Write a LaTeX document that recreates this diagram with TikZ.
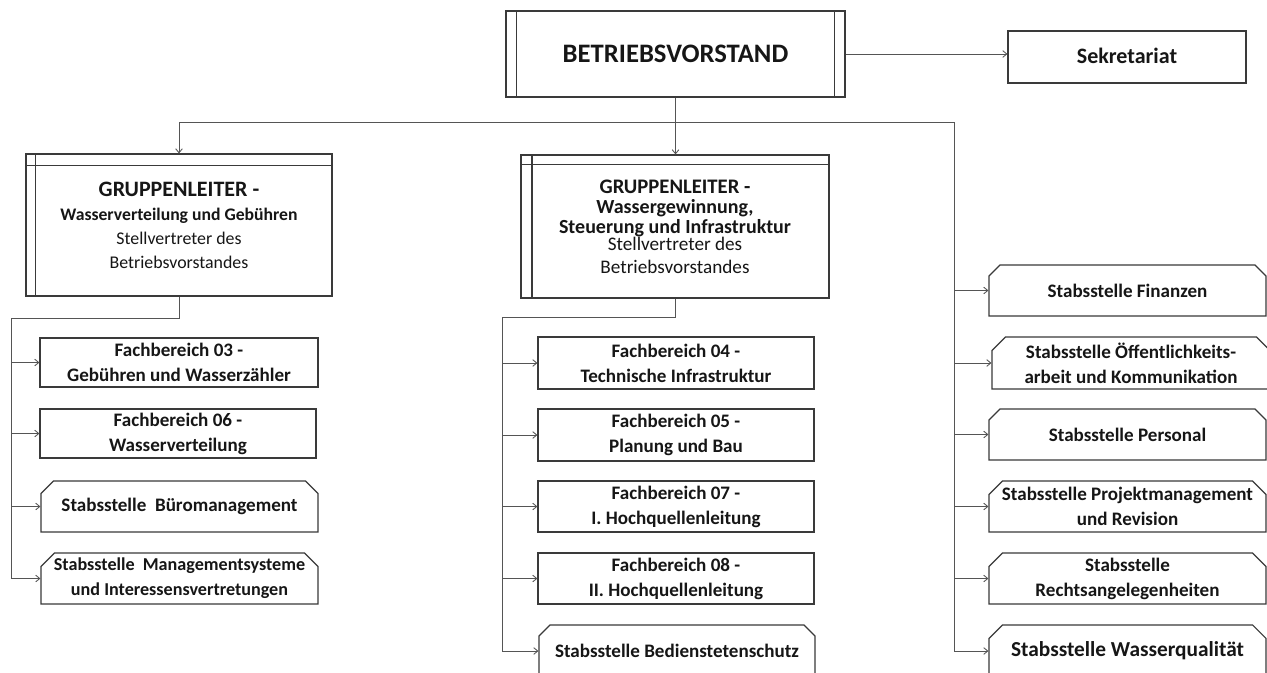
\documentclass[tikz,border=0pt]{standalone}
\usepackage{fontspec}
\setmainfont{Carlito}
\usetikzlibrary{shapes.misc,arrows.meta,calc}
\definecolor{ln}{HTML}{555555}
\definecolor{bd}{HTML}{3A3A3A}
\definecolor{tx}{HTML}{161616}
\newcommand\fsz[2]{\fontsize{#1pt}{#2pt}\selectfont}
\tikzset{
  sz/.style 2 args={minimum width=#1*0.75pt, minimum height=#2*0.75pt},
  box/.style={draw=bd, line width=0.9pt, rectangle, inner sep=0pt, align=center, text=tx,
    font=\fsz{14.3}{18.75}\bfseries},
  stab/.style={box, chamfered rectangle, chamfered rectangle corners={north west,north east},
    chamfered rectangle xsep=7pt},
  conn/.style={draw=ln, line width=0.65pt},
  arr/.style={conn, -{Straight Barb[length=3pt,width=5pt]}},
  inner/.style={draw=bd, line width=0.9pt},
}
\begin{document}
\begin{tikzpicture}[x=0.75pt,y=-0.75pt]
\useasboundingbox (0,0) rectangle (1267,672);
\clip (0,0) rectangle (1267,672);
\fill[white] (0,0) rectangle (1267,672);

% top
\node[box, sz={339}{86}, font=\fsz{20}{22}\bfseries] (BV) at (675.5,54) {BETRIEBSVORSTAND};
\draw[inner] ($(BV.north west)+(11,0)$) -- ($(BV.south west)+(11,0)$);
\draw[inner] ($(BV.north east)+(-11,0)$) -- ($(BV.south east)+(-11,0)$);
\node[box, sz={238}{52}, font=\fsz{16.5}{18}\bfseries] (SK) at (1127,57) {\raisebox{1.5pt}{Sekretariat}};

% group leaders
\node[box, sz={306}{142}, font=\fsz{13.4}{18}] (GL1) at (179,225)
  {{\fsz{16.5}{18}\bfseries GRUPPENLEITER -}\\{\fsz{13.25}{18}\bfseries Wasserverteilung und Gebühren}\\Stellvertreter des\\Betriebsvorstandes};
\draw[inner] ($(GL1.north west)+(10,0)$) -- ($(GL1.south west)+(10,0)$);
\draw[inner] ($(GL1.north west)+(0,12)$) -- ($(GL1.north east)+(0,12)$);

\node[box, sz={308}{143}, font=\fsz{15}{15}] (GL2) at (675,226.5)
  {{\fsz{15.5}{15}\bfseries GRUPPENLEITER -}\\{\bfseries Wassergewinnung,}\\{\bfseries Steuerung und Infrastruktur}\\[-2.25pt]{\fsz{14.4}{15}\mdseries Stellvertreter des}\\[2.25pt]{\fsz{14.4}{15}\mdseries Betriebsvorstandes}};
\draw[inner] ($(GL2.north west)+(11.5,0)$) -- ($(GL2.south west)+(11.5,0)$);
\draw[inner] ($(GL2.north west)+(0,10)$) -- ($(GL2.north east)+(0,10)$);

% left column
\node[box, sz={278}{49}] (FB03) at (179,362.5) {Fachbereich 03 -\\Gebühren und Wasserzähler};
\node[box, sz={276}{49}] (FB06) at (178,433.5) {Fachbereich 06 -\\Wasserverteilung};
\node[stab, sz={277}{51}] (BM) at (179.5,506.5) {Stabsstelle~ Büromanagement};
\node[stab, sz={277}{51}, font=\fsz{13.6}{18.75}\bfseries] (MS) at (179.5,578.5) {Stabsstelle\hspace{0.45em}Managementsysteme\\und Interessensvertretungen};

% middle column
\node[box, sz={276}{52}] (FB04) at (676,363) {Fachbereich 04 -\\Technische Infrastruktur};
\node[box, sz={276}{52}] (FB05) at (676,435) {Fachbereich 05 -\\Planung und Bau};
\node[box, sz={276}{51}] (FB07) at (676,506.5) {Fachbereich 07 -\\I. Hochquellenleitung};
\node[box, sz={276}{51}] (FB08) at (676,578.5) {Fachbereich 08 -\\II. Hochquellenleitung};
\node[stab, sz={276}{52}] (BS) at (677,651) {Stabsstelle Bedienstetenschutz};

% right column
\node[stab, sz={277}{51}] (FI) at (1127.5,290.5) {Stabsstelle Finanzen};
\node[stab, sz={278}{52}] (OE) at (1131,363) {Stabsstelle Öffentlichkeits-\\arbeit und Kommunikation};
\node[stab, sz={277}{51}] (PE) at (1127.5,434.5) {Stabsstelle Personal};
\node[stab, sz={277}{51}] (PR) at (1127.5,506.5) {Stabsstelle Projektmanagement\\und Revision};
\node[stab, sz={277}{51}] (RE) at (1127.5,578.5) {Stabsstelle\\Rechtsangelegenheiten};
\node[stab, sz={277}{52}, font=\fsz{16}{18.75}\bfseries] (WQ) at (1127.5,651) {Stabsstelle Wasserqualität};

% connectors
\coordinate (busL) at (179,122);
\coordinate (busR) at (954,122);
\draw[arr] (BV.east) -- (BV.east -| SK.west);
\draw[conn] (BV.south) -- (BV.south |- busL);
\draw[conn] (busL) -- (busR) -- (busR |- WQ.west);
\draw[arr] (busL) -- (GL1.north);
\draw[arr] (BV.south |- busL) -- (BV.south |- GL2.north);

\coordinate (lL) at (11,318);
\draw[conn] (GL1.south) -- (GL1.south |- lL) -- (lL) -- (lL |- MS.west);
\foreach \n in {FB03,FB06,BM,MS} \draw[arr] (lL |- \n.west) -- (\n.west);

\coordinate (lM) at (502,317);
\draw[conn] (GL2.south) -- (GL2.south |- lM) -- (lM) -- (lM |- BS.west);
\foreach \n in {FB04,FB05,FB07,FB08,BS} \draw[arr] (lM |- \n.west) -- (\n.west);

\foreach \n in {FI,OE,PE,PR,RE,WQ} \draw[arr] (busR |- \n.west) -- (\n.west);
\end{tikzpicture}
\end{document}
